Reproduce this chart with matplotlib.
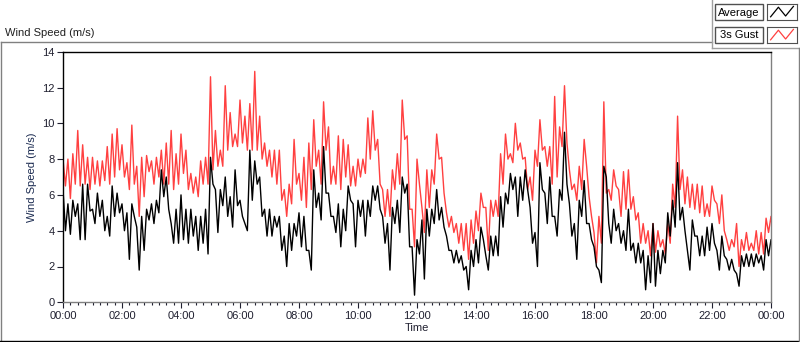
import numpy as np
import matplotlib
matplotlib.use('Agg')
import matplotlib.pyplot as plt
from matplotlib.lines import Line2D
from matplotlib.patches import Rectangle
from matplotlib.ticker import MultipleLocator, FuncFormatter

plt.rcParams['font.family'] = ['Liberation Sans', 'DejaVu Sans']

# 10 minute slots, minutes since midnight; hi at t, lo at t+5
t_hi = np.arange(0, 1441, 10)
t_lo = t_hi + 5

# 3s gust (m/s)
gust_hi = [8.0, 8.0, 8.3, 9.6, 8.8, 8.1,
           8.1, 7.9, 7.9, 8.7, 9.4, 9.7,
           8.8, 7.8, 9.9, 7.6, 8.1, 8.2,
           7.9, 8.1, 8.5, 8.9, 9.6, 8.3,
           9.4, 8.5, 7.2, 7.0, 7.9, 8.1,
           12.6, 9.6, 8.5, 12.1, 10.6, 9.4,
           11.3, 10.4, 11.1, 12.9, 10.4, 8.9,
           8.5, 8.5, 8.5, 6.3, 6.6, 9.1,
           7.2, 8.1, 8.9, 10.2, 8.5, 11.2,
           9.8, 7.6, 9.3, 9.1, 8.8, 7.6,
           8.0, 8.0, 10.3, 10.7, 9.1, 6.3,
           6.3, 7.4, 8.3, 11.3, 9.3, 5.2,
           8.0, 5.3, 7.4, 7.4, 9.4, 8.1,
           5.0, 4.8, 4.4, 4.4, 4.4, 4.6,
           5.1, 6.1, 5.3, 5.7, 5.7, 8.3,
           9.4, 8.3, 10.0, 8.9, 8.1, 7.0,
           8.5, 10.2, 8.7, 8.7, 11.5, 9.8,
           12.1, 7.4, 6.6, 7.6, 9.1, 5.9,
           3.9, 4.8, 11.2, 6.3, 7.4, 6.3,
           7.3, 7.4, 5.9, 5.0, 4.4, 4.0,
           4.4, 4.0, 3.5, 4.4, 6.6, 10.4,
           7.4, 7.0, 6.6, 6.6, 6.5, 5.5,
           6.5, 5.5, 6.0, 3.5, 3.5, 4.4,
           3.5, 3.9, 3.3, 4.0, 3.9, 4.7,
           4.8]
gust_lo = [6.5, 5.8, 6.6, 6.5, 6.6, 6.3,
           6.6, 6.5, 6.8, 6.6, 7.0, 7.4,
           7.0, 6.3, 6.6, 4.8, 5.9, 7.3,
           6.6, 7.0, 6.6, 6.6, 6.3, 6.6,
           7.2, 6.3, 6.1, 5.9, 6.6, 6.6,
           7.4, 7.6, 7.6, 8.5, 8.7, 8.7,
           8.9, 8.5, 8.5, 8.5, 8.0, 7.6,
           7.0, 6.6, 5.7, 4.8, 5.5, 6.6,
           5.7, 5.3, 6.3, 7.6, 6.6, 8.5,
           6.6, 6.6, 6.3, 7.0, 6.5, 6.5,
           7.0, 7.2, 8.0, 8.5, 6.6, 4.8,
           4.8, 6.3, 6.6, 9.1, 5.2, 3.1,
           6.6, 3.9, 5.3, 6.6, 8.0, 6.1,
           4.2, 3.9, 3.3, 2.9, 2.4, 3.3,
           4.0, 5.3, 2.9, 4.8, 4.8, 6.6,
           8.0, 7.8, 8.5, 8.0, 6.3, 5.7,
           7.6, 8.5, 7.6, 6.6, 7.0, 8.7,
           8.9, 6.3, 5.7, 6.3, 7.6, 4.8,
           2.2, 3.3, 6.1, 5.7, 6.5, 4.8,
           5.2, 5.2, 4.6, 3.3, 3.3, 2.6,
           2.8, 3.1, 2.7, 3.3, 5.3, 6.3,
           5.5, 5.3, 5.2, 5.0, 4.8, 4.8,
           5.7, 4.4, 4.0, 2.9, 3.1, 2.0,
           2.9, 2.9, 2.9, 2.7, 2.7, 3.9,
           3.5]

# 1 min average (m/s)
avg_hi = [6.3, 5.5, 5.7, 5.5, 6.6, 6.6,
          5.2, 6.1, 5.7, 4.8, 6.5, 6.1,
          5.5, 5.0, 5.5, 4.2, 4.8, 5.2,
          5.5, 5.7, 7.4, 7.0, 4.4, 5.2,
          6.0, 5.2, 5.2, 4.8, 4.8, 5.2,
          8.1, 6.3, 6.3, 7.0, 5.9, 7.4,
          5.7, 4.4, 8.5, 7.9, 7.0, 5.2,
          5.2, 4.8, 4.8, 3.7, 4.4, 4.4,
          5.0, 4.8, 2.9, 7.4, 6.1, 8.7,
          6.1, 4.8, 5.5, 5.2, 6.5, 5.5,
          5.7, 5.7, 5.7, 6.5, 6.5, 4.8,
          4.4, 5.3, 5.7, 7.0, 6.6, 3.1,
          3.5, 4.6, 5.2, 5.2, 6.3, 5.3,
          3.7, 2.9, 2.9, 2.6, 2.0, 2.9,
          3.5, 4.2, 2.6, 3.7, 3.7, 5.9,
          6.1, 7.2, 7.0, 7.0, 7.4, 5.3,
          3.9, 7.8, 6.1, 7.0, 4.8, 6.3,
          9.5, 5.5, 4.4, 5.7, 6.8, 4.4,
          3.1, 1.8, 7.6, 4.4, 5.2, 4.4,
          4.0, 5.2, 3.3, 3.3, 2.9, 2.6,
          4.4, 2.9, 2.9, 5.0, 5.7, 7.8,
          5.3, 2.9, 4.6, 3.7, 3.7, 4.2,
          4.4, 2.9, 3.7, 2.4, 2.4, 1.6,
          2.6, 2.7, 2.7, 2.7, 2.6, 3.5,
          3.5]
avg_lo = [4.0, 3.8, 4.8, 3.5, 3.5, 5.1,
          4.4, 4.8, 4.0, 3.7, 4.8, 5.0,
          4.0, 2.4, 4.8, 1.8, 2.9, 4.6,
          4.4, 5.0, 5.9, 5.2, 3.3, 3.3,
          3.5, 3.3, 3.7, 2.9, 3.3, 2.7,
          6.6, 3.9, 5.4, 4.8, 4.2, 5.4,
          4.8, 4.0, 5.7, 6.6, 4.8, 3.7,
          3.7, 4.2, 2.9, 2.0, 2.9, 3.7,
          3.1, 2.9, 1.8, 5.3, 4.6, 6.1,
          4.8, 3.9, 3.1, 4.0, 5.7, 3.1,
          4.8, 3.7, 4.8, 5.7, 5.2, 3.3,
          1.8, 4.4, 3.9, 6.1, 3.1, 0.4,
          2.7, 1.3, 3.7, 4.4, 4.6, 4.2,
          2.9, 2.2, 2.2, 1.8, 0.7, 2.0,
          2.2, 3.5, 1.8, 2.6, 2.6, 4.2,
          5.5, 6.3, 4.8, 5.7, 6.3, 3.3,
          2.0, 6.3, 4.4, 4.8, 3.7, 5.7,
          6.6, 3.7, 2.4, 4.8, 4.4, 3.5,
          2.0, 1.1, 7.0, 3.3, 4.0, 3.3,
          2.9, 2.9, 2.2, 2.2, 0.7, 1.1,
          0.9, 1.6, 2.2, 3.7, 4.2, 4.6,
          4.0, 1.8, 3.7, 2.6, 2.6, 2.9,
          3.3, 1.8, 2.6, 1.8, 1.8, 0.9,
          2.0, 2.0, 2.0, 2.2, 1.8, 2.6,
          2.6]

series_names = ['Average', '3s Gust']
y_ticks = [0, 2, 4, 6, 8, 10, 12, 14]


def zigzag(hi, lo):
    x = np.column_stack([t_hi, t_lo]).ravel()
    y = np.column_stack([hi, lo]).ravel()
    return x, y


W, H = 800, 342
fig = plt.figure(figsize=(8, 3.42), dpi=100)
ax = fig.add_axes([63 / W, 39.7 / H, 708 / W, 250.6 / H])

gx, gy = zigzag(gust_hi, gust_lo)
ax.plot(gx, gy, color='#ff4040', lw=1.0)
axx, axy = zigzag(avg_hi, avg_lo)
ax.plot(axx, axy, color='black', lw=1.0)

ax.set_xlim(0, 1440)
ax.set_ylim(0, 14)
ax.set_yticks(y_ticks)
ax.xaxis.set_major_locator(MultipleLocator(120))
ax.xaxis.set_minor_locator(MultipleLocator(15))
ax.xaxis.set_major_formatter(FuncFormatter(lambda v, p: '%02d:%02d' % ((int(v) // 60) % 24, int(v) % 60)))
ax.tick_params(which='major', direction='out', length=4, width=0.8, labelsize=8, colors='#202030', pad=2)
ax.tick_params(which='minor', direction='out', length=2, width=0.8, colors='#202030')
for s in ['left', 'top']:
    ax.spines[s].set_color('black')
for s in ['bottom', 'right']:
    ax.spines[s].set_color('#808080')
for s in ax.spines.values():
    s.set_linewidth(1)

ax.set_xlabel('Time', fontsize=8, color='#202030', labelpad=2)
ax.set_ylabel('Wind Speed (m/s)', fontsize=8, color='#1a2a50', labelpad=4)

# panel frame and caption
fig.text(5 / W, 1 - 33 / H, 'Wind Speed (m/s)', fontsize=8, va='center', ha='left', color='#202020')
frame = [([0.5, 712], [42, 42], '#808080'), ([712, 712], [0, 48], '#a0a0a0'),
         ([712, 800], [48, 48], '#a0a0a0'), ([0.5, 0.5], [42, 342], '#808080'),
         ([0, 800], [341, 341], 'black'), ([799, 799], [48, 342], '#808080')]
for xs, ys, c in frame:
    fig.add_artist(Line2D([x / W for x in xs], [1 - y / H for y in ys], color=c, lw=1))

# legend boxes
legend_colors = ['black', '#ff4040']
for i, (name, c) in enumerate(zip(series_names, legend_colors)):
    top = 4 + i * 23
    fig.add_artist(Rectangle((715 / W, 1 - (top + 16) / H), 48 / W, 16 / H,
                             transform=fig.transFigure, fc='white', ec='#505050', lw=1))
    fig.text(739 / W, 1 - (top + 8.5) / H, name, fontsize=8, ha='center', va='center', color='black')
    iax = fig.add_axes([767 / W, 1 - (top + 16) / H, 30 / W, 16 / H])
    iax.plot([0.12, 0.38, 0.62, 0.88], [0.2, 0.8, 0.25, 0.85], color=c, lw=0.9)
    iax.set_xlim(0, 1)
    iax.set_ylim(0, 1)
    iax.set_xticks([])
    iax.set_yticks([])
    for s in iax.spines.values():
        s.set_color('#505050')

fig.savefig('out.png', dpi=100)
